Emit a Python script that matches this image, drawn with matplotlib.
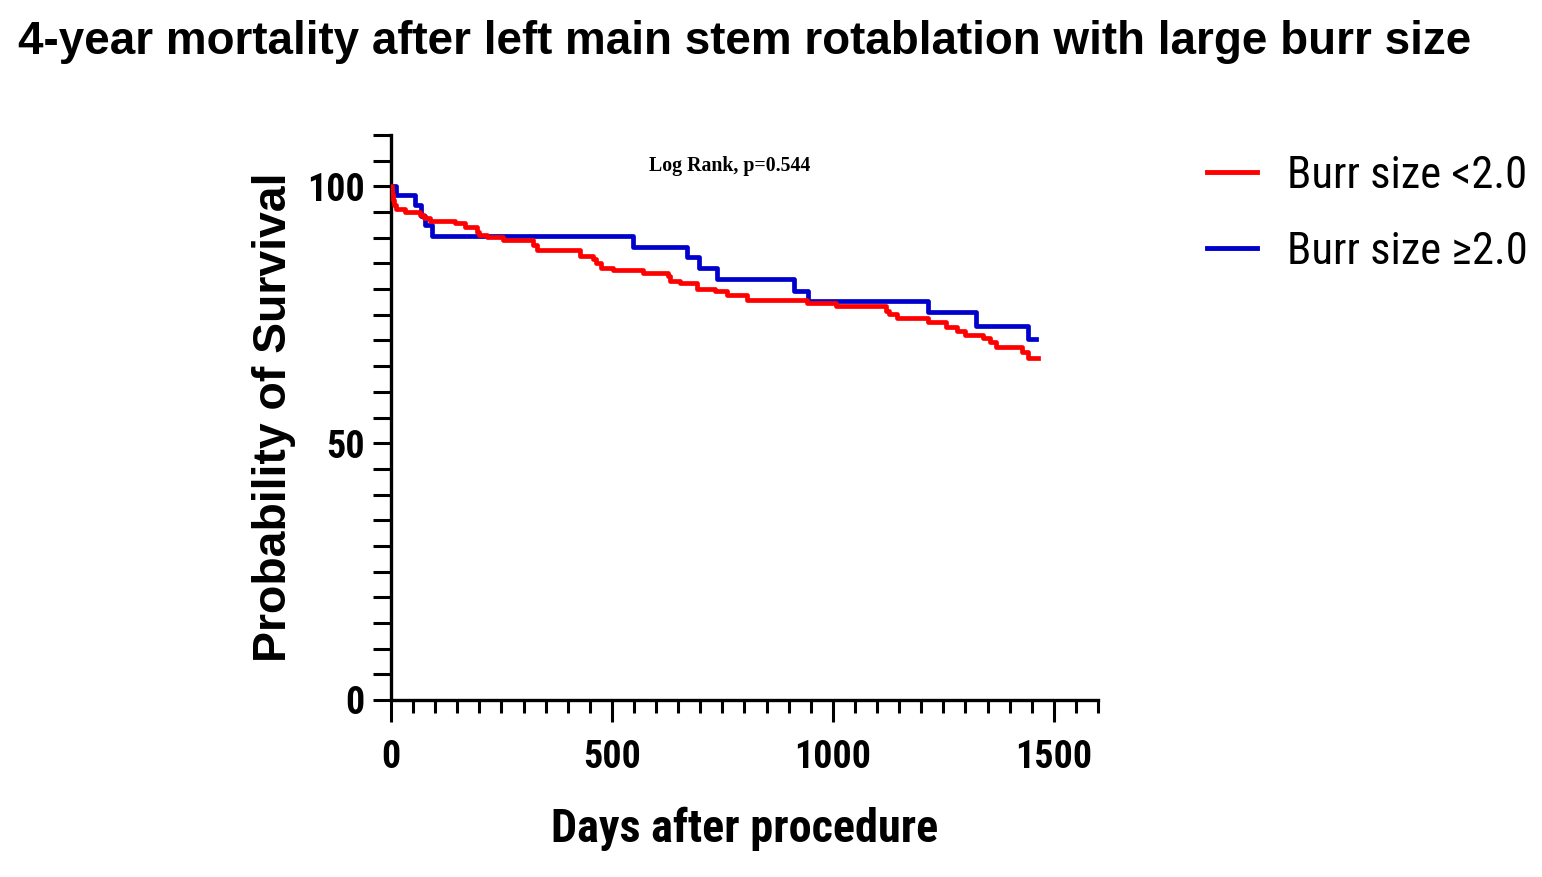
import matplotlib
matplotlib.use("Agg")
import matplotlib.pyplot as plt
from matplotlib.ticker import MultipleLocator
from matplotlib.lines import Line2D
from matplotlib import font_manager as fm

# ---- data ----
red_days = [0, 2, 4, 7, 12, 32, 66, 74, 88, 145, 167, 194, 200, 217, 254, 322, 330, 428, 458, 465,
            475, 502, 570, 627, 632, 654, 692, 733, 760, 805, 942, 1008, 1121, 1128, 1144, 1216,
            1257, 1280, 1299, 1340, 1355, 1370, 1427, 1442, 1465]
red_surv = [100, 98.6, 97.4, 96.3, 95.5, 95.0, 94.4, 93.8, 93.2, 92.8, 92.1, 91.1, 90.5, 90.2, 89.5,
            88.5, 87.6, 86.4, 85.8, 85.0, 84.1, 83.7, 83.2, 82.6, 81.6, 81.2, 80.1, 79.6, 78.9, 77.9,
            77.3, 76.8, 75.8, 75.2, 74.3, 73.6, 72.6, 71.9, 71.1, 70.4, 69.7, 68.7, 67.7, 66.5, 66.5]
blue_days = [0, 11, 54, 67, 76, 92, 548, 671, 696, 737, 912, 943, 1216, 1324, 1442, 1459]
blue_surv = [100, 98.4, 96.4, 94.2, 92.4, 90.3, 88.2, 86.2, 84.1, 82.0, 79.7, 77.6, 75.5, 72.8, 70.2, 70.2]

series_labels = ["Burr size <2.0", "Burr size \u22652.0"]
series_colors = ["#ff0000", "#0000cc"]
x_ticks = [0, 500, 1000, 1500]
y_ticks = [0, 50, 100]
title = "4-year mortality after left main stem rotablation with large burr size"
annotation = "Log Rank, p=0.544"

avail = {f.name for f in fm.fontManager.ttflist}
narrow_name = next((n for n in ["Liberation Sans Narrow", "Arial Narrow", "Roboto Condensed",
                                "Open Sans Condensed", "DejaVu Sans Condensed"] if n in avail), None)
REG = ["Liberation Sans", "DejaVu Sans"]
NARROW = ([narrow_name] if narrow_name else []) + REG

fig = plt.figure(figsize=(15.42, 8.77), dpi=100)
ax = fig.add_axes([391/1542, 1 - 700/877, 707/1542, 565/877])

ax.step(red_days, red_surv, where="post", color=series_colors[0], lw=3.4, zorder=3)
ax.step(blue_days, blue_surv, where="post", color=series_colors[1], lw=3.4, zorder=2)

ax.set_xlim(0, 1600)
ax.set_ylim(0, 110)
for s in ["top", "right"]:
    ax.spines[s].set_visible(False)
for s in ["left", "bottom"]:
    ax.spines[s].set_linewidth(2.4)
    ax.spines[s].set_color("black")

ax.set_xticks(x_ticks)
ax.set_yticks(y_ticks)
ax.xaxis.set_minor_locator(MultipleLocator(50))
ax.yaxis.set_minor_locator(MultipleLocator(5))
ax.tick_params(axis="x", which="major", direction="out", length=16, width=2.2, pad=12)
ax.tick_params(axis="x", which="minor", direction="out", length=9, width=2.2)
ax.tick_params(axis="y", which="both", direction="out", length=13, width=2.2, pad=6)

xl = ax.set_xlabel("Days after procedure", fontfamily=NARROW, fontweight="bold", fontsize=34, labelpad=22)
yl = ax.set_ylabel("Probability of Survival", fontfamily=REG, fontweight="bold", fontsize=33, labelpad=8)

ann = fig.text(730/1542, 1 - 166/877, annotation, ha="center", va="center",
               fontfamily=["Liberation Serif", "DejaVu Serif"], fontweight="bold", fontsize=14)

ttl = fig.text(18/1542, 1 - 42/877, title, ha="left", va="center", fontfamily=REG,
               fontweight="bold", fontsize=33)

probe = fig.text(0, 0, series_labels[0], fontfamily=NARROW, fontsize=33)


def fit(txt, target_px, renderer, horizontal=True):
    bb = txt.get_window_extent(renderer)
    w = bb.width if horizontal else bb.height
    txt.set_fontsize(txt.get_fontsize() * target_px / w)


def style_ticks(size):
    for lab in ax.get_xticklabels() + ax.get_yticklabels():
        lab.set_fontfamily(NARROW)
        lab.set_fontweight("bold")
        lab.set_fontsize(size)


style_ticks(30)
fig.canvas.draw()
r = fig.canvas.get_renderer()
fit(xl, 387, r)
fit(yl, 490, r, horizontal=False)
fit(ann, 162, r)
fit(ttl, 1452, r)
fit(probe, 241, r)
legsize = probe.get_fontsize()
probe.remove()
lab1000 = [l for l in ax.get_xticklabels() if l.get_text() == "1000"][0]
tsize = 30 * 77 / lab1000.get_window_extent(r).width
style_ticks(tsize)

em_px = legsize * 100 / 72
handles = [Line2D([], [], color=c, lw=3.5) for c in series_colors]
leg = fig.legend(handles, series_labels, loc="upper left", bbox_to_anchor=(1207/1542, 1 - 155/877),
                 frameon=False, prop={"family": NARROW, "size": legsize},
                 handlelength=50/em_px, handletextpad=30/em_px, labelspacing=0.75,
                 borderaxespad=0, borderpad=0)

fig.savefig("out.png", dpi=100)
